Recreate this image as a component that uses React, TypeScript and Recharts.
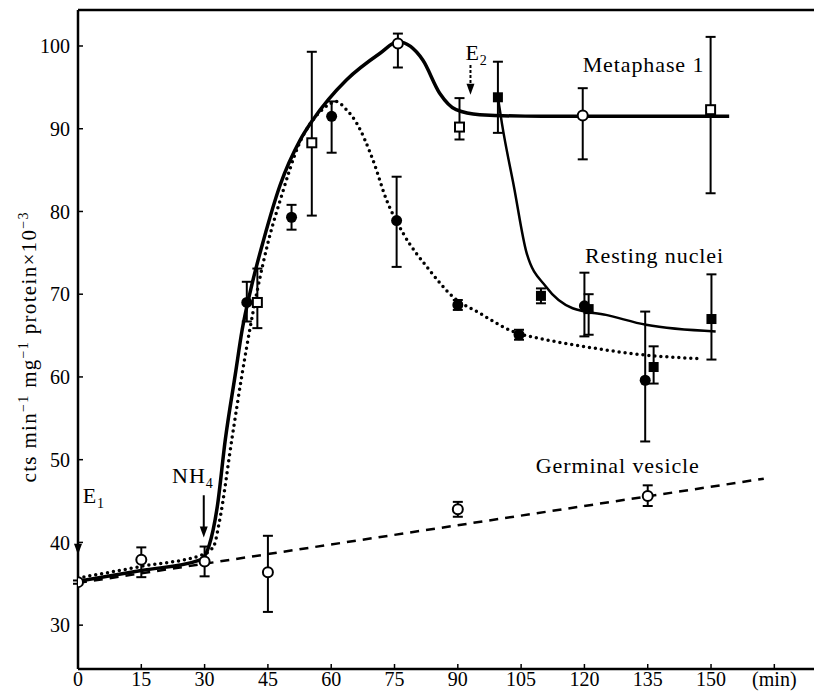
import React from "react";
import {
  ComposedChart,
  Line,
  Scatter,
  XAxis,
  YAxis,
  ErrorBar,
  ReferenceLine,
  ReferenceDot,
} from "recharts";

const FONT = "'Liberation Serif', 'DejaVu Serif', serif";

// axes
const xTicks = [0, 15, 30, 45, 60, 75, 90, 105, 120, 135, 150, 165];
const yTicks = [30, 40, 50, 60, 70, 80, 90, 100];
const xMax = 174.4;
const yMin = 24.7;
const yMax = 104.35;

// Germinal vesicle: open circles
const gvX = [0, 15, 30, 45, 90, 135];
const gvY = [35.2, 37.9, 37.7, 36.4, 44.0, 45.6];
const gvLo = [35.0, 35.8, 35.9, 31.6, 43.1, 44.4];
const gvHi = [35.4, 39.4, 39.5, 40.8, 44.9, 46.9];
const gvLineX = [0, 162.5];
const gvLineY = [35.1, 47.7];

// Metaphase 1: open squares and open circles
const mqX = [42.5, 55.4, 90.4, 149.9];
const mqY = [69.0, 88.3, 90.2, 92.3];
const mqLo = [65.9, 79.5, 88.7, 82.2];
const mqHi = [73.1, 99.3, 93.7, 101.1];
const mcX = [75.8, 119.6];
const mcY = [100.3, 91.6];
const mcLo = [97.4, 86.3];
const mcHi = [101.5, 94.9];
const metaX = [0, 15, 29, 31, 33, 34.9, 37.3, 38.9, 40.9, 44, 47.9, 52.6, 55.7, 63.6, 71.5, 75.8, 81.7, 85.7, 89.6, 95.2, 110, 130, 154.3];
const metaY = [35.3, 36.6, 37.9, 39.5, 44.3, 52.4, 60.4, 65.7, 70.5, 76.6, 83.2, 88.6, 91.1, 95.9, 99.1, 100.5, 98.3, 94.3, 92.3, 91.7, 91.5, 91.5, 91.5];

// dotted curve: filled circles
const fcX = [40, 50.6, 60.1, 75.5, 90, 104.5, 120, 134.4];
const fcY = [69.0, 79.3, 91.5, 78.9, 68.7, 65.1, 68.6, 59.6];
const fcLo = [66.7, 77.8, 87.1, 73.3, 68.1, 64.5, 64.9, 52.2];
const fcHi = [71.5, 80.8, 93.3, 84.2, 69.3, 65.7, 72.6, 67.9];
const dotX = [0, 15, 30, 32.2, 33.5, 36.5, 38.9, 42.5, 45.2, 48, 52.6, 56.7, 59.7, 61, 63.6, 66, 69.9, 73.1, 77, 83.3, 88.8, 95.2, 103, 110.9, 119.6, 135.3, 148];
const dotY = [35.7, 37.1, 38.6, 39.6, 42.5, 52.6, 60.4, 70.5, 76.6, 81.5, 88.4, 91.7, 93.0, 93.3, 92.3, 90.7, 86.2, 81.4, 77.4, 72.9, 69.7, 67.7, 65.5, 64.5, 63.7, 62.6, 62.2];

// Resting nuclei: filled squares
const fsX = [99.5, 109.7, 121, 136.4, 150.1];
const fsY = [93.8, 69.8, 68.2, 61.2, 67.0];
const fsLo = [89.5, 68.9, 65.1, 59.2, 62.1];
const fsHi = [98.1, 70.7, 70.0, 63.7, 72.4];
const restX = [99.5, 100.5, 103.3, 106.3, 110.9, 117.2, 125.1, 134.6, 151.1];
const restY = [93.8, 90.5, 83, 75, 70.9, 68.3, 67.5, 66.3, 65.5];

const points = (xs: number[], ys: number[], lo: number[], hi: number[]) =>
  xs.map((x, i) => ({ x, y: ys[i], err: [ys[i] - lo[i], hi[i] - ys[i]] }));
const curve = (xs: number[], ys: number[]) => xs.map((x, i) => ({ x, y: ys[i] }));

const OpenCircle = (p: any) => (
  <circle cx={p.cx} cy={p.cy} r={5} fill="#fff" stroke="#000" strokeWidth={2} />
);
const OpenSquare = (p: any) => (
  <rect x={p.cx - 4.5} y={p.cy - 4.5} width={9} height={9} fill="#fff" stroke="#000" strokeWidth={2} />
);
const FilledCircle = (p: any) => <circle cx={p.cx} cy={p.cy} r={5.5} fill="#000" />;
const FilledSquare = (p: any) => (
  <rect x={p.cx - 5} y={p.cy - 5} width={10} height={10} fill="#000" />
);

const note = (main: string, sub = "", anchor: "start" | "middle" = "start") => (p: any) => (
  <text
    x={p.cx}
    y={p.cy}
    fontFamily={FONT}
    fontSize={22}
    letterSpacing={0.9}
    textAnchor={anchor}
    fill="#000"
  >
    {main}
    {sub && (
      <tspan fontSize={14} dy={5}>
        {sub}
      </tspan>
    )}
  </text>
);

const arrow = (dashed: boolean) => (p: any) => (
  <g>
    <line
      x1={p.x1}
      y1={p.y1}
      x2={p.x2}
      y2={p.y2 - 8}
      stroke="#000"
      strokeWidth={2}
      strokeDasharray={dashed ? "3 2" : undefined}
    />
    <path d={`M${p.x2 - 4},${p.y2 - 11} L${p.x2 + 4},${p.y2 - 11} L${p.x2},${p.y2} Z`} fill="#000" />
  </g>
);

const YTitle = (props: any) => {
  const { viewBox } = props;
  const x = viewBox.x + 36;
  const y = viewBox.y + viewBox.height / 2 + 8;
  return (
    <text
      x={x}
      y={y}
      transform={`rotate(-90, ${x}, ${y})`}
      textAnchor="middle"
      fontFamily={FONT}
      fontSize={21}
      fill="#000"
      textLength={270}
      lengthAdjust="spacing"
    >
      cts min
      <tspan fontSize={14} dy={-8}>−1</tspan>
      <tspan dy={8}> mg</tspan>
      <tspan fontSize={14} dy={-8}>−1</tspan>
      <tspan dy={8}> protein×10</tspan>
      <tspan fontSize={14} dy={-8}>−3</tspan>
    </text>
  );
};

const tickStyle = { fontSize: 20, fontFamily: FONT, fill: "#000" };

export default function App() {
  return (
    <div style={{ position: "absolute", left: 0, top: 0, background: "#fff" }}>
      <ComposedChart width={814} height={696} margin={{ top: 10, right: 0, bottom: 0, left: 0 }}>
        <XAxis
          type="number"
          dataKey="x"
          domain={[0, xMax]}
          ticks={xTicks}
          interval={0}
          allowDataOverflow
          height={27}
          tick={tickStyle}
          tickFormatter={(v) => (v === 165 ? "(min)" : String(v))}
          tickSize={-5}
          tickMargin={8}
          axisLine={{ stroke: "#000", strokeWidth: 2.5 }}
          tickLine={{ stroke: "#000", strokeWidth: 1.5 }}
        />
        <YAxis
          type="number"
          dataKey="y"
          domain={[yMin, yMax]}
          ticks={yTicks}
          interval={0}
          allowDataOverflow
          width={78}
          tick={tickStyle}
          tickSize={-5}
          tickMargin={13}
          axisLine={{ stroke: "#000", strokeWidth: 2.5 }}
          tickLine={{ stroke: "#000", strokeWidth: 1.5 }}
          label={{ content: YTitle }}
        />
        <ReferenceLine y={yMax} stroke="#000" strokeWidth={2.5} ifOverflow="visible" />

        <Line
          data={curve(gvLineX, gvLineY)}
          dataKey="y"
          type="linear"
          stroke="#000"
          strokeWidth={2.5}
          strokeDasharray="9 7"
          dot={false}
          isAnimationActive={false}
        />
        <Line
          data={curve(dotX, dotY)}
          dataKey="y"
          type="monotone"
          stroke="#000"
          strokeWidth={3.5}
          strokeDasharray="0 6"
          strokeLinecap="round"
          dot={false}
          isAnimationActive={false}
        />
        <Line
          data={curve(metaX, metaY)}
          dataKey="y"
          type="monotone"
          stroke="#000"
          strokeWidth={3.5}
          dot={false}
          isAnimationActive={false}
        />
        <Line
          data={curve(restX, restY)}
          dataKey="y"
          type="monotone"
          stroke="#000"
          strokeWidth={2.5}
          dot={false}
          isAnimationActive={false}
        />

        <Scatter data={points(gvX, gvY, gvLo, gvHi)} shape={OpenCircle} isAnimationActive={false}>
          <ErrorBar dataKey="err" direction="y" width={5} stroke="#000" strokeWidth={2} />
        </Scatter>
        <Scatter data={points(mqX, mqY, mqLo, mqHi)} shape={OpenSquare} isAnimationActive={false}>
          <ErrorBar dataKey="err" direction="y" width={5} stroke="#000" strokeWidth={2} />
        </Scatter>
        <Scatter data={points(mcX, mcY, mcLo, mcHi)} shape={OpenCircle} isAnimationActive={false}>
          <ErrorBar dataKey="err" direction="y" width={5} stroke="#000" strokeWidth={2} />
        </Scatter>
        <Scatter data={points(fcX, fcY, fcLo, fcHi)} shape={FilledCircle} isAnimationActive={false}>
          <ErrorBar dataKey="err" direction="y" width={5} stroke="#000" strokeWidth={2} />
        </Scatter>
        <Scatter data={points(fsX, fsY, fsLo, fsHi)} shape={FilledSquare} isAnimationActive={false}>
          <ErrorBar dataKey="err" direction="y" width={5} stroke="#000" strokeWidth={2} />
        </Scatter>

        {/* labels and arrows */}
        <ReferenceDot x={134} y={96.9} r={0} shape={note("Metaphase 1", "", "middle")} />
        <ReferenceDot x={136.6} y={73.8} r={0} shape={note("Resting nuclei", "", "middle")} />
        <ReferenceDot x={127.9} y={48.4} r={0} shape={note("Germinal vesicle", "", "middle")} />
        <ReferenceDot x={91.8} y={98.3} r={0} shape={note("E", "2")} />
        <ReferenceDot x={22.3} y={47.2} r={0} shape={note("NH", "4")} />
        <ReferenceDot x={1.1} y={44.75} r={0} shape={note("E", "1")} />
        <ReferenceLine segment={[{ x: 93, y: 97.7 }, { x: 93, y: 94.1 }]} shape={arrow(true)} />
        <ReferenceLine segment={[{ x: 29.8, y: 45.7 }, { x: 29.8, y: 40.6 }]} shape={arrow(false)} />
        <ReferenceLine segment={[{ x: 0, y: 41.8 }, { x: 0, y: 38.5 }]} shape={arrow(false)} />
      </ComposedChart>
    </div>
  );
}
